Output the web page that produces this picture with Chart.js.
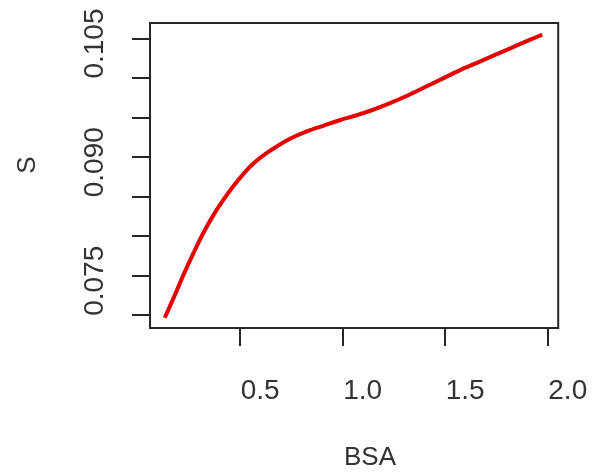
<!DOCTYPE html>
<html>
<head>
<meta charset="utf-8">
<script src="https://cdn.jsdelivr.net/npm/chart.js@4"></script>
<style>
  body { margin: 0; background: #fff; }
  canvas { display: block; }
</style>
</head>
<body>
<canvas id="myChart" width="596" height="472"></canvas>
<script>
// values
const bsa = [0.132, 0.180, 0.228, 0.276, 0.324, 0.372, 0.420, 0.468, 0.516, 0.564,
    0.628, 0.668, 0.748, 0.828, 0.908, 0.988, 1.068, 1.148, 1.228, 1.308,
    1.420, 1.500, 1.580, 1.660, 1.740, 1.820, 1.900, 1.973];
const sValues = [0.0697, 0.0725, 0.0754, 0.0781, 0.0806, 0.0828, 0.0847, 0.0864, 0.0879, 0.0892,
    0.0905, 0.0912, 0.0924, 0.0933, 0.0940, 0.0947, 0.0953, 0.0960, 0.0968, 0.0977,
    0.0991, 0.1001, 0.1011, 0.1020, 0.1029, 0.1038, 0.1047, 0.1055];

const xTicks = [0.5, 1.0, 1.5, 2.0];
const xTickLabels = ['0.5', '1.0', '1.5', '2.0'];
const yTicks = [0.070, 0.075, 0.080, 0.085, 0.090, 0.095, 0.100, 0.105];
const yTickLabels = ['', '0.075', '', '', '0.090', '', '', '0.105'];

const xTitle = 'BSA';
const yTitle = 'S';

const ink = '#262626';
const fontFamily = '"Liberation Sans", Arial, sans-serif';

const points = bsa.map((x, i) => ({ x: x, y: sValues[i] }));

// box around the plot + axis titles, R style
const boxPlugin = {
    id: 'box',
    afterDraw(chart) {
        const ctx = chart.ctx;
        const a = chart.chartArea;
        ctx.save();
        ctx.strokeStyle = ink;
        ctx.lineWidth = 2;
        ctx.strokeRect(a.left, a.top, a.right - a.left, a.bottom - a.top);

        ctx.fillStyle = '#333';
        ctx.font = '26px ' + fontFamily;
        ctx.textAlign = 'center';
        ctx.textBaseline = 'middle';
        ctx.fillText(xTitle, 370, 458);

        ctx.translate(28, 165);
        ctx.rotate(-Math.PI / 2);
        ctx.fillText(yTitle, 0, 0);
        ctx.restore();
    }
};

const ctx = document.getElementById('myChart').getContext('2d');
const myChart = new Chart(ctx, {
    type: 'scatter',
    data: {
        datasets: [{
            data: points,
            showLine: true,
            borderColor: '#e60000',
            borderWidth: 4,
            pointRadius: 0,
            cubicInterpolationMode: 'monotone',
            fill: false
        }]
    },
    options: {
        responsive: false,
        animation: false,
        layout: {
            padding: { top: 23, right: 31, left: 0, bottom: 0 }
        },
        plugins: {
            legend: { display: false },
            tooltip: { enabled: false }
        },
        scales: {
            x: {
                type: 'linear',
                min: 0.06,
                max: 2.051,
                afterBuildTicks: scale => {
                    scale.ticks = xTicks.map(v => ({ value: v }));
                },
                afterFit: scale => { scale.height = 144; },
                ticks: {
                    callback: (v, i) => xTickLabels[i],
                    color: '#333',
                    font: { size: 28, family: fontFamily },
                    padding: 28,
                    labelOffset: 20,
                    maxRotation: 0,
                    autoSkip: false
                },
                grid: {
                    drawOnChartArea: false,
                    drawTicks: true,
                    tickLength: 18,
                    color: ink,
                    lineWidth: 2
                },
                border: { display: true, color: ink, width: 2 }
            },
            y: {
                type: 'linear',
                min: 0.0684,
                max: 0.10697,
                afterBuildTicks: scale => {
                    scale.ticks = yTicks.map(v => ({ value: v }));
                },
                afterFit: scale => { scale.width = 150; },
                ticks: {
                    callback: (v, i) => yTickLabels[i],
                    color: '#333',
                    font: { size: 28, family: fontFamily },
                    minRotation: 90,
                    maxRotation: 90,
                    crossAlign: 'center',
                    padding: 2,
                    labelOffset: 5,
                    autoSkip: false
                },
                grid: {
                    drawOnChartArea: false,
                    drawTicks: true,
                    tickLength: 18,
                    color: ink,
                    lineWidth: 2
                },
                border: { display: true, color: ink, width: 2 }
            }
        }
    },
    plugins: [boxPlugin]
});
</script>
</body>
</html>
